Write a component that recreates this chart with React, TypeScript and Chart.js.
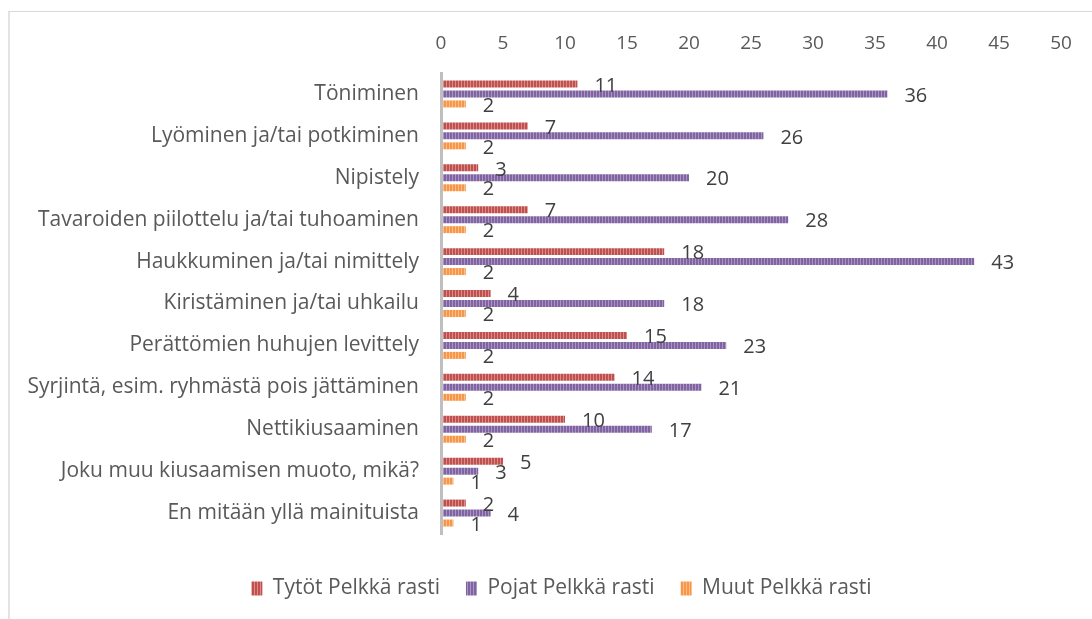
import React, { useEffect, useRef } from 'react';
import { Chart, registerables } from 'chart.js';

Chart.register(...registerables);

const categories = [
  'Töniminen',
  'Lyöminen ja/tai potkiminen',
  'Nipistely',
  'Tavaroiden piilottelu ja/tai tuhoaminen',
  'Haukkuminen ja/tai nimittely',
  'Kiristäminen ja/tai uhkailu',
  'Perättömien huhujen levittely',
  'Syrjintä, esim. ryhmästä pois jättäminen',
  'Nettikiusaaminen',
  'Joku muu kiusaamisen muoto, mikä?',
  'En mitään yllä mainituista',
];
const tytot = [11, 7, 3, 7, 18, 4, 15, 14, 10, 5, 2];
const pojat = [36, 26, 20, 28, 43, 18, 23, 21, 17, 3, 4];
const muut = [2, 2, 2, 2, 2, 2, 2, 2, 2, 1, 1];
const seriesNames = ['Tytöt Pelkkä rasti', 'Pojat Pelkkä rasti', 'Muut Pelkkä rasti'];
const xMin = 0;
const xMax = 50;
const xStep = 5;

const FONT = '"Open Sans"';

function stripes(base: string, light: string): CanvasPattern | string {
  const c = document.createElement('canvas');
  c.width = 3;
  c.height = 4;
  const g = c.getContext('2d');
  if (!g) return base;
  g.fillStyle = base;
  g.fillRect(0, 0, 3, 4);
  g.fillStyle = light;
  g.fillRect(2, 0, 1, 4);
  return g.createPattern(c, 'repeat') || base;
}

const dataLabelPlugin = {
  id: 'dataLabels',
  afterDatasetsDraw(chart: any) {
    const ctx = chart.ctx;
    ctx.save();
    ctx.font = `20px ${FONT}`;
    ctx.fillStyle = '#404040';
    ctx.textAlign = 'left';
    ctx.textBaseline = 'middle';
    chart.data.datasets.forEach((ds: any, di: number) => {
      const meta = chart.getDatasetMeta(di);
      meta.data.forEach((el: any, i: number) => {
        ctx.fillText(String(ds.data[i]), el.x + 17, el.y + 2);
      });
    });
    ctx.restore();
  },
};

const legendShiftPlugin = {
  id: 'legendShift',
  afterLayout(chart: any) {
    if (chart.legend) {
      chart.legend.left += 31;
      chart.legend.right += 31;
    }
  },
};

export default function App() {
  const ref = useRef<HTMLCanvasElement | null>(null);

  useEffect(() => {
    if (!ref.current) return;
    const chart = new Chart(ref.current, {
      type: 'bar',
      data: {
        labels: categories,
        datasets: [
          { label: seriesNames[0], data: tytot, backgroundColor: stripes('#c0504d', '#d98c8a') as any },
          { label: seriesNames[1], data: pojat, backgroundColor: stripes('#8064a2', '#a995c4') as any },
          { label: seriesNames[2], data: muut, backgroundColor: stripes('#f79646', '#fbbd8c') as any },
        ],
      },
      options: {
        indexAxis: 'y',
        responsive: false,
        maintainAspectRatio: false,
        animation: false,
        layout: { padding: { left: 0, right: 31, top: 0, bottom: 10 } },
        datasets: { bar: { categoryPercentage: 0.714, barPercentage: 0.7 } },
        scales: {
          x: {
            type: 'linear',
            position: 'top',
            min: xMin,
            max: xMax,
            ticks: { stepSize: xStep, color: '#595959', font: { family: FONT, size: 19 }, padding: 18 },
            grid: { display: false, drawTicks: false },
            border: { display: false },
            afterFit: (s: any) => { s.height = 73; },
          },
          x2: {
            type: 'linear',
            position: 'bottom',
            display: true,
            ticks: { display: false },
            grid: { display: false, drawTicks: false },
            border: { display: false },
            afterFit: (s: any) => { s.height = 18; },
          },
          y: {
            type: 'category',
            position: 'left',
            ticks: { color: '#595959', font: { family: FONT, size: 21 }, padding: 22 },
            grid: { display: false, drawTicks: false },
            border: { display: true, color: '#bfbfbf', width: 3, z: 1 },
            afterFit: (s: any) => { s.width = 441; },
          },
        } as any,
        plugins: {
          legend: {
            position: 'bottom',
            align: 'center',
            labels: {
              boxWidth: 11,
              boxHeight: 14,
              padding: 26,
              color: '#595959',
              font: { family: FONT, size: 21 },
            },
          },
          tooltip: { enabled: false },
        },
      } as any,
      plugins: [dataLabelPlugin, legendShiftPlugin],
    });
    return () => chart.destroy();
  }, []);

  return (
    <div style={{ position: 'fixed', left: 0, top: 0, width: 1092, height: 619, background: '#fff' }}>
      <div
        style={{
          position: 'absolute',
          left: 8,
          top: 11,
          right: 0,
          bottom: 0,
          borderTop: '1px solid #d9d9d9',
          borderLeft: '2px solid #e3e3e3',
        }}
      />
      <canvas ref={ref} width={1092} height={619} style={{ position: 'absolute', left: 0, top: 0 }} />
    </div>
  );
}
